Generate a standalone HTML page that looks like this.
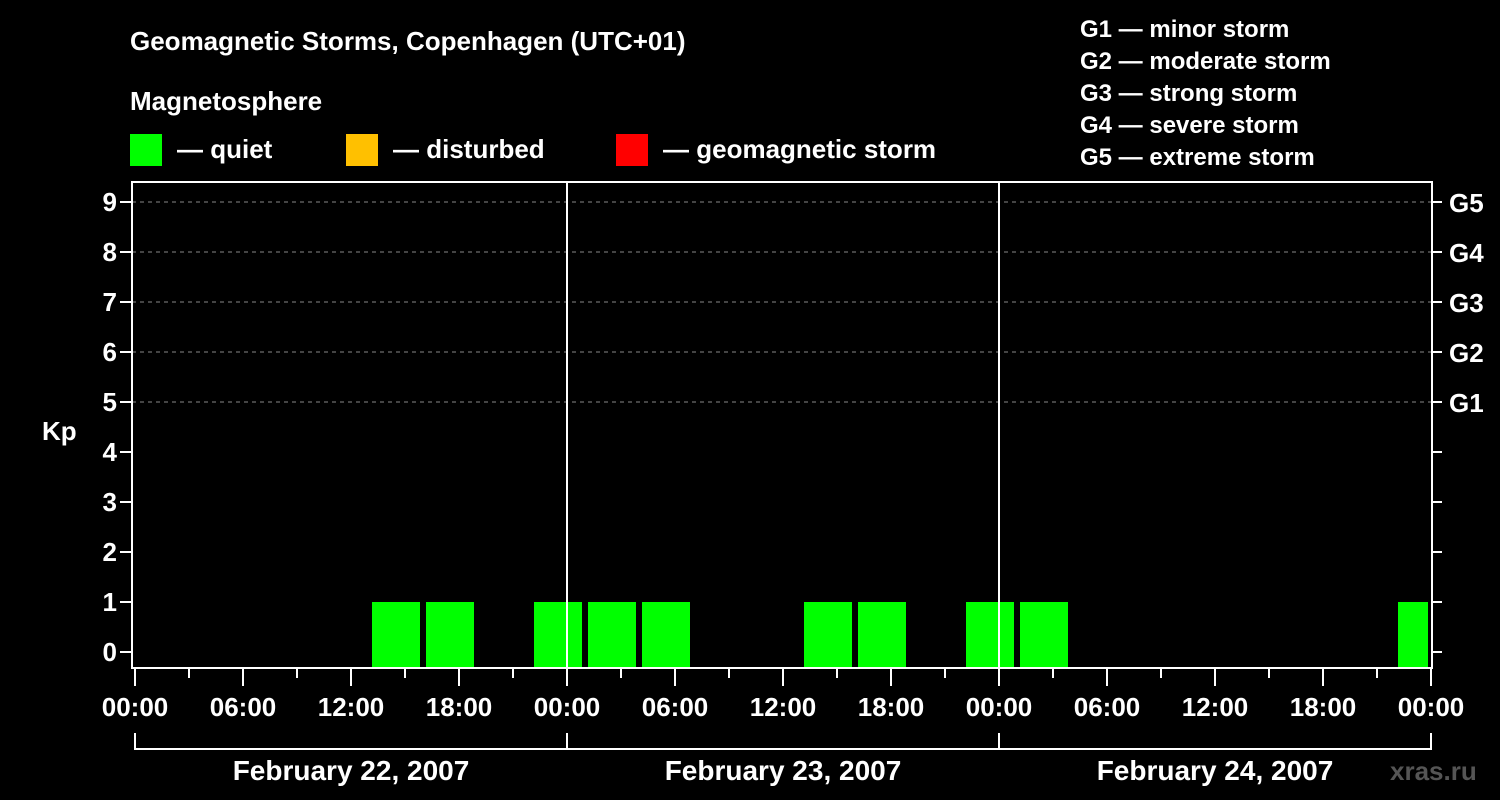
<!DOCTYPE html>
<html><head><meta charset="utf-8"><style>
html,body{margin:0;padding:0;background:#000;}
svg{display:block;font-family:"Liberation Sans",Arial,sans-serif;font-weight:bold;}
</style></head><body>
<svg id="chart" width="1500" height="800" viewBox="0 0 1500 800">
<rect x="0" y="0" width="1500" height="800" fill="#000"/>
<text x="130" y="50" fill="#fff" font-size="26">Geomagnetic Storms, Copenhagen (UTC+01)</text>
<text x="130" y="110" fill="#fff" font-size="26">Magnetosphere</text>
<g><rect x="130" y="134" width="32" height="32" fill="#00ff00"/><text x="177" y="158" fill="#fff" font-size="26">— quiet</text></g>
<g><rect x="346" y="134" width="32" height="32" fill="#ffc000"/><text x="393" y="158" fill="#fff" font-size="26">— disturbed</text></g>
<g><rect x="616" y="134" width="32" height="32" fill="#ff0000"/><text x="663" y="158" fill="#fff" font-size="26">— geomagnetic storm</text></g>
<g fill="#fff" font-size="24">
<text x="1080" y="37">G1 — minor storm</text>
<text x="1080" y="69">G2 — moderate storm</text>
<text x="1080" y="101">G3 — strong storm</text>
<text x="1080" y="133">G4 — severe storm</text>
<text x="1080" y="165">G5 — extreme storm</text>
</g>
<text x="42" y="440" fill="#fff" font-size="26">Kp</text>
<text x="1390" y="780" fill="#555" font-size="26">xras.ru</text>
<g id="grid"></g><g id="bars"></g><g id="axes"></g>
</svg>
<script>
const kpTicks=[0,1,2,3,4,5,6,7,8,9];
const gLabels=["G1","G2","G3","G4","G5"];
const timeLabels=["00:00","06:00","12:00","18:00","00:00","06:00","12:00","18:00","00:00","06:00","12:00","18:00","00:00"];
const dayLabels=["February 22, 2007","February 23, 2007","February 24, 2007"];
// bar start hour (from 00:00 Feb 22, local) and Kp value
const barHours=[13,16,22,25,28,37,40,46,49,70];
const barKp=[1,1,1,1,1,1,1,1,1,1];
const X0=135,PX_H=18,Y0=652,PX_K=50,TOP=182,BOT=668,L=132,R=1432;
const xs=h=>X0+h*PX_H, ys=k=>Y0-k*PX_K;
const NS="http://www.w3.org/2000/svg";
function mk(p,t,a){const e=document.createElementNS(NS,t);for(const k in a)e.setAttribute(k,a[k]);p.appendChild(e);return e;}
const grid=document.getElementById('grid'),bars=document.getElementById('bars'),axes=document.getElementById('axes');
kpTicks.forEach(k=>{
 if(k>=5){const g=mk(grid,'line',{x1:L,x2:R,y1:ys(k),y2:ys(k),stroke:'#888','stroke-dasharray':'4,4'});
 
 }
 const t=mk(axes,'line',{x1:L-12,x2:L,y1:ys(k),y2:ys(k),stroke:'#fff','stroke-width':2});
 
 
 const t2=mk(axes,'line',{x1:R,x2:R+10,y1:ys(k),y2:ys(k),stroke:'#fff','stroke-width':2});
 
 
 const tx=mk(axes,'text',{x:L-15,y:ys(k)+9,fill:'#fff','font-size':26,'text-anchor':'end'});tx.textContent=k;
 
 
 if(k>=5){const g=mk(axes,'text',{x:R+17,y:ys(k)+10,fill:'#fff','font-size':26});g.textContent=gLabels[k-5];
 
 }
});
barHours.forEach((h,i)=>{
 const x1=xs(h)+3,x2=Math.min(xs(h+3)-3,R-4);
 const k=barKp[i];const col=k>=5?'#ff0000':(k>=4?'#ffc000':'#00ff00');
 const b=mk(bars,'rect',{x:x1,y:ys(k),width:x2-x1,height:BOT-1-ys(k),fill:col});
 
 
});
[1,2].forEach(d=>{const l=mk(axes,'line',{x1:xs(24*d),x2:xs(24*d),y1:TOP,y2:BOT,stroke:'#fff','stroke-width':2});
 
 });
const fr=mk(axes,'rect',{x:L,y:TOP,width:R-L,height:BOT-TOP,fill:'none',stroke:'#fff','stroke-width':2});


for(let i=0;i<=24;i++){const x=xs(i*3);const major=i%2===0;
 const t=mk(axes,'line',{x1:x,x2:x,y1:BOT,y2:major?686:678,stroke:'#fff','stroke-width':2});
 
 }
timeLabels.forEach((s,i)=>{const t=mk(axes,'text',{x:xs(i*6),y:716,fill:'#fff','font-size':26,'text-anchor':'middle'});t.textContent=s;
 
 });
dayLabels.forEach((s,i)=>{
 const a=xs(i*24),b=xs(i*24+24);
 const p=mk(axes,'path',{d:`M${a},733V749H${b}V733`,fill:'none',stroke:'#fff','stroke-width':2});
 
 
 const t=mk(axes,'text',{x:(a+b)/2,y:780,fill:'#fff','font-size':28,'text-anchor':'middle'});t.textContent=s;
 
 
});
</script>
</body></html>
